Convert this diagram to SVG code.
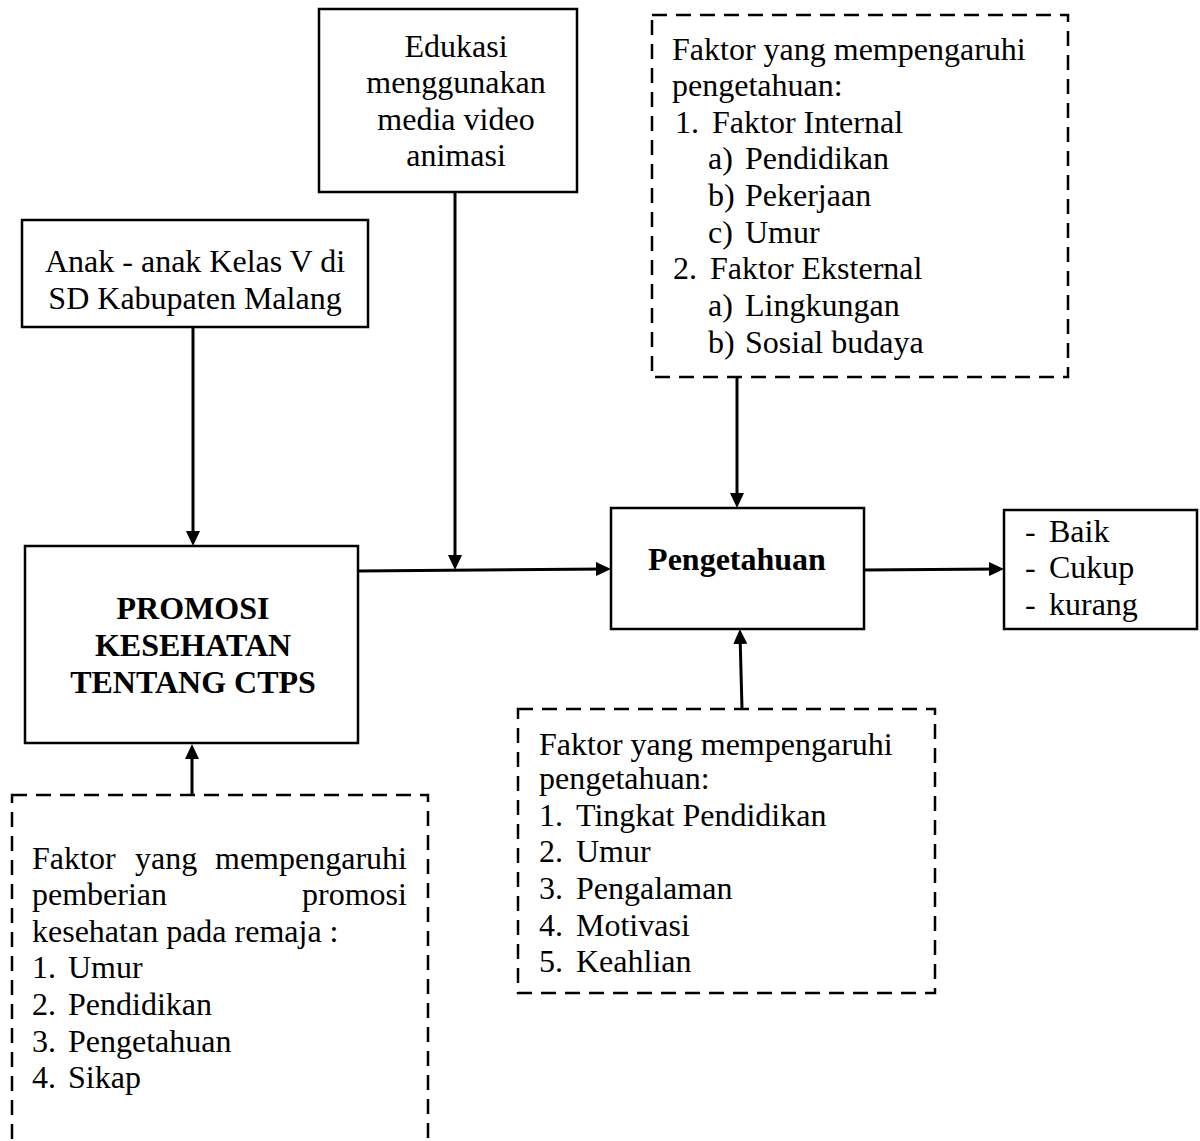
<svg xmlns="http://www.w3.org/2000/svg" width="1200" height="1141" viewBox="0 0 1200 1141">
<style>
text{font-family:"Liberation Serif","Times New Roman",serif;font-size:32px;fill:#000}
.b{font-weight:bold}
.c{text-anchor:middle}
.box{fill:#fff;stroke:#000;stroke-width:2.5}
.dash{fill:#fff;stroke:#000;stroke-width:2.5;stroke-dasharray:15 9}
.con{stroke:#000;stroke-width:3;fill:none;marker-end:url(#ah)}
</style>
<defs>
<marker id="ah" viewBox="0 0 15 14" refX="10" refY="7" markerWidth="15" markerHeight="14" markerUnits="userSpaceOnUse" orient="auto">
<path d="M0,0 L15,7 L0,14 z" fill="#000"/>
</marker>
</defs>
<rect width="1200" height="1141" fill="#fff"/>

<g id="connectors">
<line class="con" x1="193" y1="327" x2="193" y2="541"/>
<line class="con" x1="455" y1="192" x2="455" y2="565"/>
<line class="con" x1="358" y1="571" x2="606" y2="569"/>
<line class="con" x1="737" y1="377" x2="737" y2="503"/>
<line class="con" x1="742" y1="709" x2="740" y2="634"/>
<line class="con" x1="864" y1="570" x2="999" y2="569"/>
<line class="con" x1="192" y1="795" x2="192" y2="749"/>
</g>

<g id="node-edukasi">
<rect class="box" x="319" y="9" width="258" height="183"/>
<text class="c" x="456" y="57">Edukasi</text>
<text class="c" x="456" y="93">menggunakan</text>
<text class="c" x="456" y="130">media video</text>
<text class="c" x="456" y="166">animasi</text>
</g>

<g id="node-anak">
<rect class="box" x="22" y="220" width="346" height="107"/>
<text class="c" x="195" y="272">Anak - anak Kelas V di</text>
<text class="c" x="195" y="309">SD Kabupaten Malang</text>
</g>

<g id="node-promosi">
<rect class="box" x="25" y="546" width="333" height="197"/>
<text class="c b" x="193" y="619">PROMOSI</text>
<text class="c b" x="193" y="656">KESEHATAN</text>
<text class="c b" x="193" y="693">TENTANG CTPS</text>
</g>

<g id="node-pengetahuan">
<rect class="box" x="611" y="508" width="253" height="121"/>
<text class="c b" x="737" y="570">Pengetahuan</text>
</g>

<g id="node-hasil">
<rect class="box" x="1004" y="510" width="193" height="119"/>
<text x="1025" y="542">-</text><text x="1049" y="542">Baik</text>
<text x="1025" y="578">-</text><text x="1049" y="578">Cukup</text>
<text x="1025" y="615">-</text><text x="1049" y="615">kurang</text>
</g>

<g id="node-faktor-atas">
<rect class="dash" x="652" y="15" width="416" height="362"/>
<text x="672" y="60">Faktor yang mempengaruhi</text>
<text x="672" y="96">pengetahuan:</text>
<text x="675" y="133">1.</text><text x="712" y="133">Faktor Internal</text>
<text x="708" y="169">a)</text><text x="745" y="169">Pendidikan</text>
<text x="708" y="206">b)</text><text x="745" y="206">Pekerjaan</text>
<text x="708" y="243">c)</text><text x="745" y="243">Umur</text>
<text x="673" y="279">2.</text><text x="710" y="279">Faktor Eksternal</text>
<text x="708" y="316">a)</text><text x="745" y="316">Lingkungan</text>
<text x="708" y="353">b)</text><text x="745" y="353">Sosial budaya</text>
</g>

<g id="node-faktor-bawah">
<rect class="dash" x="518" y="709" width="417" height="284"/>
<text x="539" y="755">Faktor yang mempengaruhi</text>
<text x="539" y="789">pengetahuan:</text>
<text x="539" y="826">1.</text><text x="576" y="826">Tingkat Pendidikan</text>
<text x="539" y="862">2.</text><text x="576" y="862">Umur</text>
<text x="539" y="899">3.</text><text x="576" y="899">Pengalaman</text>
<text x="539" y="936">4.</text><text x="576" y="936">Motivasi</text>
<text x="539" y="972">5.</text><text x="576" y="972">Keahlian</text>
</g>

<g id="node-faktor-promosi">
<rect class="dash" x="12" y="795" width="416" height="380"/>
<text x="32" y="869">Faktor</text><text x="135" y="869">yang</text><text x="215" y="869">mempengaruhi</text>
<text x="32" y="905">pemberian</text><text x="302" y="905">promosi</text>
<text x="32" y="942">kesehatan pada remaja :</text>
<text x="32" y="978">1.</text><text x="68" y="978">Umur</text>
<text x="32" y="1015">2.</text><text x="68" y="1015">Pendidikan</text>
<text x="32" y="1052">3.</text><text x="68" y="1052">Pengetahuan</text>
<text x="32" y="1088">4.</text><text x="68" y="1088">Sikap</text>
</g>
</svg>
